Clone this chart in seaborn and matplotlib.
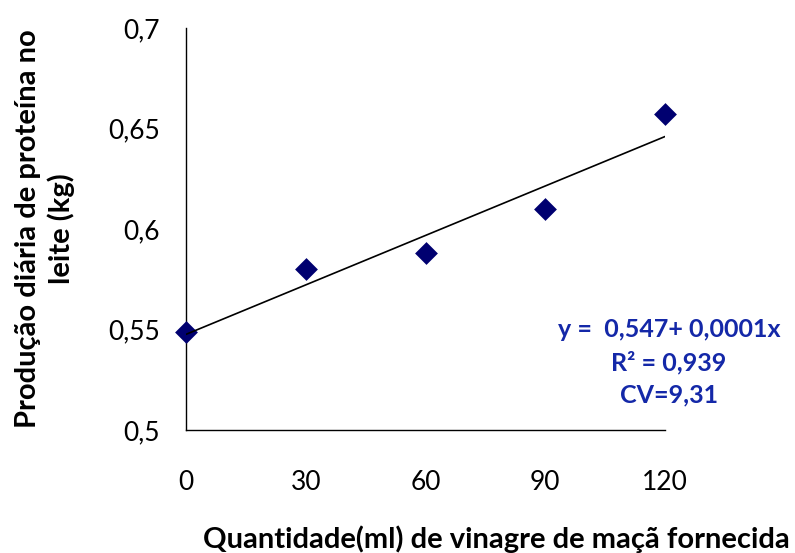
import matplotlib
matplotlib.use("Agg")
import matplotlib.pyplot as plt
import seaborn as sns
import pandas as pd

# Apple cider vinegar supplied (ml) and daily milk protein yield (kg)
dose_ml = [0, 30, 60, 90, 120]
protein_kg = [0.549, 0.580, 0.588, 0.610, 0.657]

x_ticks = [0, 30, 60, 90, 120]
y_ticks = [0.5, 0.55, 0.6, 0.65, 0.7]
y_ticklabels = ["0,5", "0,55", "0,6", "0,65", "0,7"]

equation_text = "y =  0,547+ 0,0001x\nR\u00b2 = 0,939\nCV=9,31"

df = pd.DataFrame({"dose": dose_ml, "protein": protein_kg})

sns.set_theme(style="white")
plt.rcParams["font.family"] = ["Lato", "DejaVu Sans"]

fig = plt.figure(figsize=(7.95, 5.53), dpi=100)
ax = fig.add_axes([0.234, 0.2224, 0.6025, 0.727])

marker_color = "#000070"
sns.regplot(
    data=df, x="dose", y="protein", ax=ax, ci=None, marker="D",
    scatter_kws={"s": 135, "color": marker_color, "alpha": 1.0,
                 "linewidths": 0, "zorder": 3, "clip_on": False},
    line_kws={"color": "black", "linewidth": 1.2, "zorder": 4},
)

ax.set_xlim(0, 120)
ax.set_ylim(0.5, 0.7)
ax.set_xticks(x_ticks)
ax.set_xticklabels([str(v) for v in x_ticks])
ax.set_yticks(y_ticks)
ax.set_yticklabels(y_ticklabels)

for side in ("top", "right"):
    ax.spines[side].set_visible(False)
for side in ("left", "bottom"):
    ax.spines[side].set_color("black")
    ax.spines[side].set_linewidth(1.0)
    ax.spines[side].set_zorder(1)

ax.tick_params(axis="both", which="major", direction="out", length=6, width=1.0,
               color="black", labelsize=19, labelcolor="black")
ax.tick_params(axis="x", pad=23)
ax.tick_params(axis="y", pad=13)

ax.set_xlabel("Quantidade(ml) de vinagre de maçã fornecida", fontsize=21,
              fontweight="bold", color="black")
ax.xaxis.set_label_coords(0.647, -0.237)
ax.set_ylabel("Produção diária de proteína no\nleite (kg)", fontsize=21,
              fontweight="bold", color="black", linespacing=1.3)
ax.yaxis.set_label_coords(-0.232, 0.5)

ax.text(1.008, 0.169, equation_text, transform=ax.transAxes, ha="center",
        va="center", fontsize=18, fontweight="bold", color="#1428A8",
        linespacing=1.5, clip_on=False)

fig.savefig("out.png", dpi=100)
